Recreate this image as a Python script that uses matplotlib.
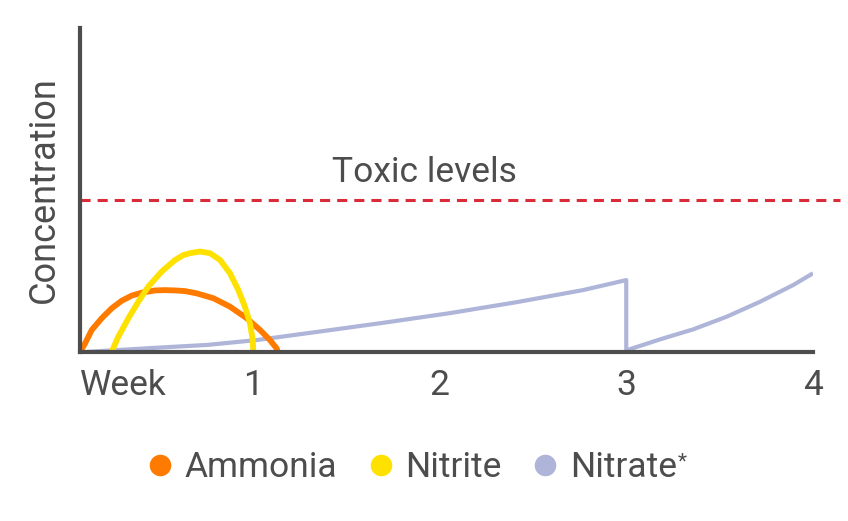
import matplotlib
matplotlib.use("Agg")
import matplotlib.pyplot as plt
from matplotlib.lines import Line2D

plt.rcParams['font.family'] = ['Roboto', 'DejaVu Sans']

TEXT = '#4d4d4d'
C_AMM = '#ff7b00'
C_NITRITE = '#ffe100'
C_NITRATE = '#aeb5d9'
C_TOXIC = '#d92b3a'

# Data (weeks, relative concentration in % of axis height)
amm_x = [0.075, 0.098, 0.138, 0.191, 0.245, 0.298, 0.352, 0.405, 0.477, 0.530,
         0.584, 0.637, 0.700, 0.789, 0.878, 0.968, 1.039, 1.092, 1.128, 1.135]
amm_y = [0.0, 2.2, 6.8, 10.4, 13.5, 15.8, 17.4, 18.3, 19.0, 19.1,
         19.0, 18.8, 18.1, 16.6, 14.0, 10.4, 6.8, 3.7, 1.1, 0.0]

nitrite_x = [0.244, 0.280, 0.334, 0.387, 0.441, 0.512, 0.584, 0.628, 0.664, 0.718,
             0.771, 0.825, 0.878, 0.923, 0.958, 0.985, 1.000, 1.003]
nitrite_y = [0.0, 4.7, 10.4, 15.5, 20.2, 24.8, 28.4, 29.9, 30.5, 31.0,
             30.5, 28.4, 24.3, 19.1, 14.0, 8.9, 3.7, 0.0]

nitrate_x = [0.10, 0.45, 0.76, 1.023, 1.344, 1.697, 2.056, 2.415, 2.768, 3.0,
             3.0, 3.181, 3.359, 3.538, 3.716, 3.895, 4.0]
nitrate_y = [0.0, 1.2, 2.2, 3.7, 6.2, 9.0, 12.0, 15.4, 19.1, 22.2,
             0.5, 3.9, 7.0, 10.9, 15.5, 20.7, 24.3]

toxic_level = 46.9
x_ticks = [1, 2, 3, 4]
x_tick_labels = ['1', '2', '3', '4']
legend_labels = ['Ammonia', 'Nitrite', 'Nitrate']

fig = plt.figure(figsize=(8.48, 5.21), dpi=100)
ax = fig.add_axes([80/848, 1-352/521, (813-80)/848, (352-28)/521])

x0 = 0.075
ax.set_xlim(x0, 4.0)
ax.set_ylim(0, 100)

ax.plot(nitrate_x, nitrate_y, color=C_NITRATE, lw=3.0, solid_capstyle='butt',
        solid_joinstyle='round', zorder=2)
ax.plot(amm_x, amm_y, color=C_AMM, lw=4.2, solid_capstyle='butt',
        solid_joinstyle='round', zorder=3)
ax.plot(nitrite_x, nitrite_y, color=C_NITRITE, lw=4.2, solid_capstyle='butt',
        solid_joinstyle='round', zorder=4)

ax.plot([x0, 4.145], [toxic_level, toxic_level], color=C_TOXIC, lw=2.2,
        dashes=(3.3, 2.3), clip_on=False, zorder=1)
ax.text(1.92, toxic_level + 3.5, 'Toxic levels', ha='center', va='bottom',
        fontsize=25.5, color=TEXT)

for s in ['top', 'right']:
    ax.spines[s].set_visible(False)
for s in ['left', 'bottom']:
    ax.spines[s].set_color(TEXT)
    ax.spines[s].set_linewidth(3.0)
    ax.spines[s].set_zorder(5)

ax.set_xticks([x0] + x_ticks)
ax.set_xticklabels(['Week'] + x_tick_labels)
ax.get_xticklabels()[0].set_ha('left')
ax.set_yticks([])
ax.tick_params(axis='x', length=0, pad=12, labelsize=25.5, labelcolor=TEXT)
ax.set_ylabel('Concentration', fontsize=26, color=TEXT, labelpad=13)

handles = [Line2D([], [], marker='o', ls='none', color=c, markersize=14.5)
           for c in [C_AMM, C_NITRITE, C_NITRATE]]
leg = fig.legend(handles, legend_labels, loc='center', bbox_to_anchor=(0.483, 0.102),
                 ncol=3, frameon=False, fontsize=25.5, handletextpad=0.2,
                 columnspacing=0.73, handlelength=1.0, labelcolor=TEXT)

# small superscript asterisk after "Nitrate"
fig.canvas.draw()
r = fig.canvas.get_renderer()
bb = leg.get_texts()[2].get_window_extent(r)
fig.text((bb.x1 + 1) / 848, (bb.y1 - 1) / 521, '*', fontsize=15, color=TEXT,
         ha='left', va='top')

fig.savefig('out.png', dpi=100)
